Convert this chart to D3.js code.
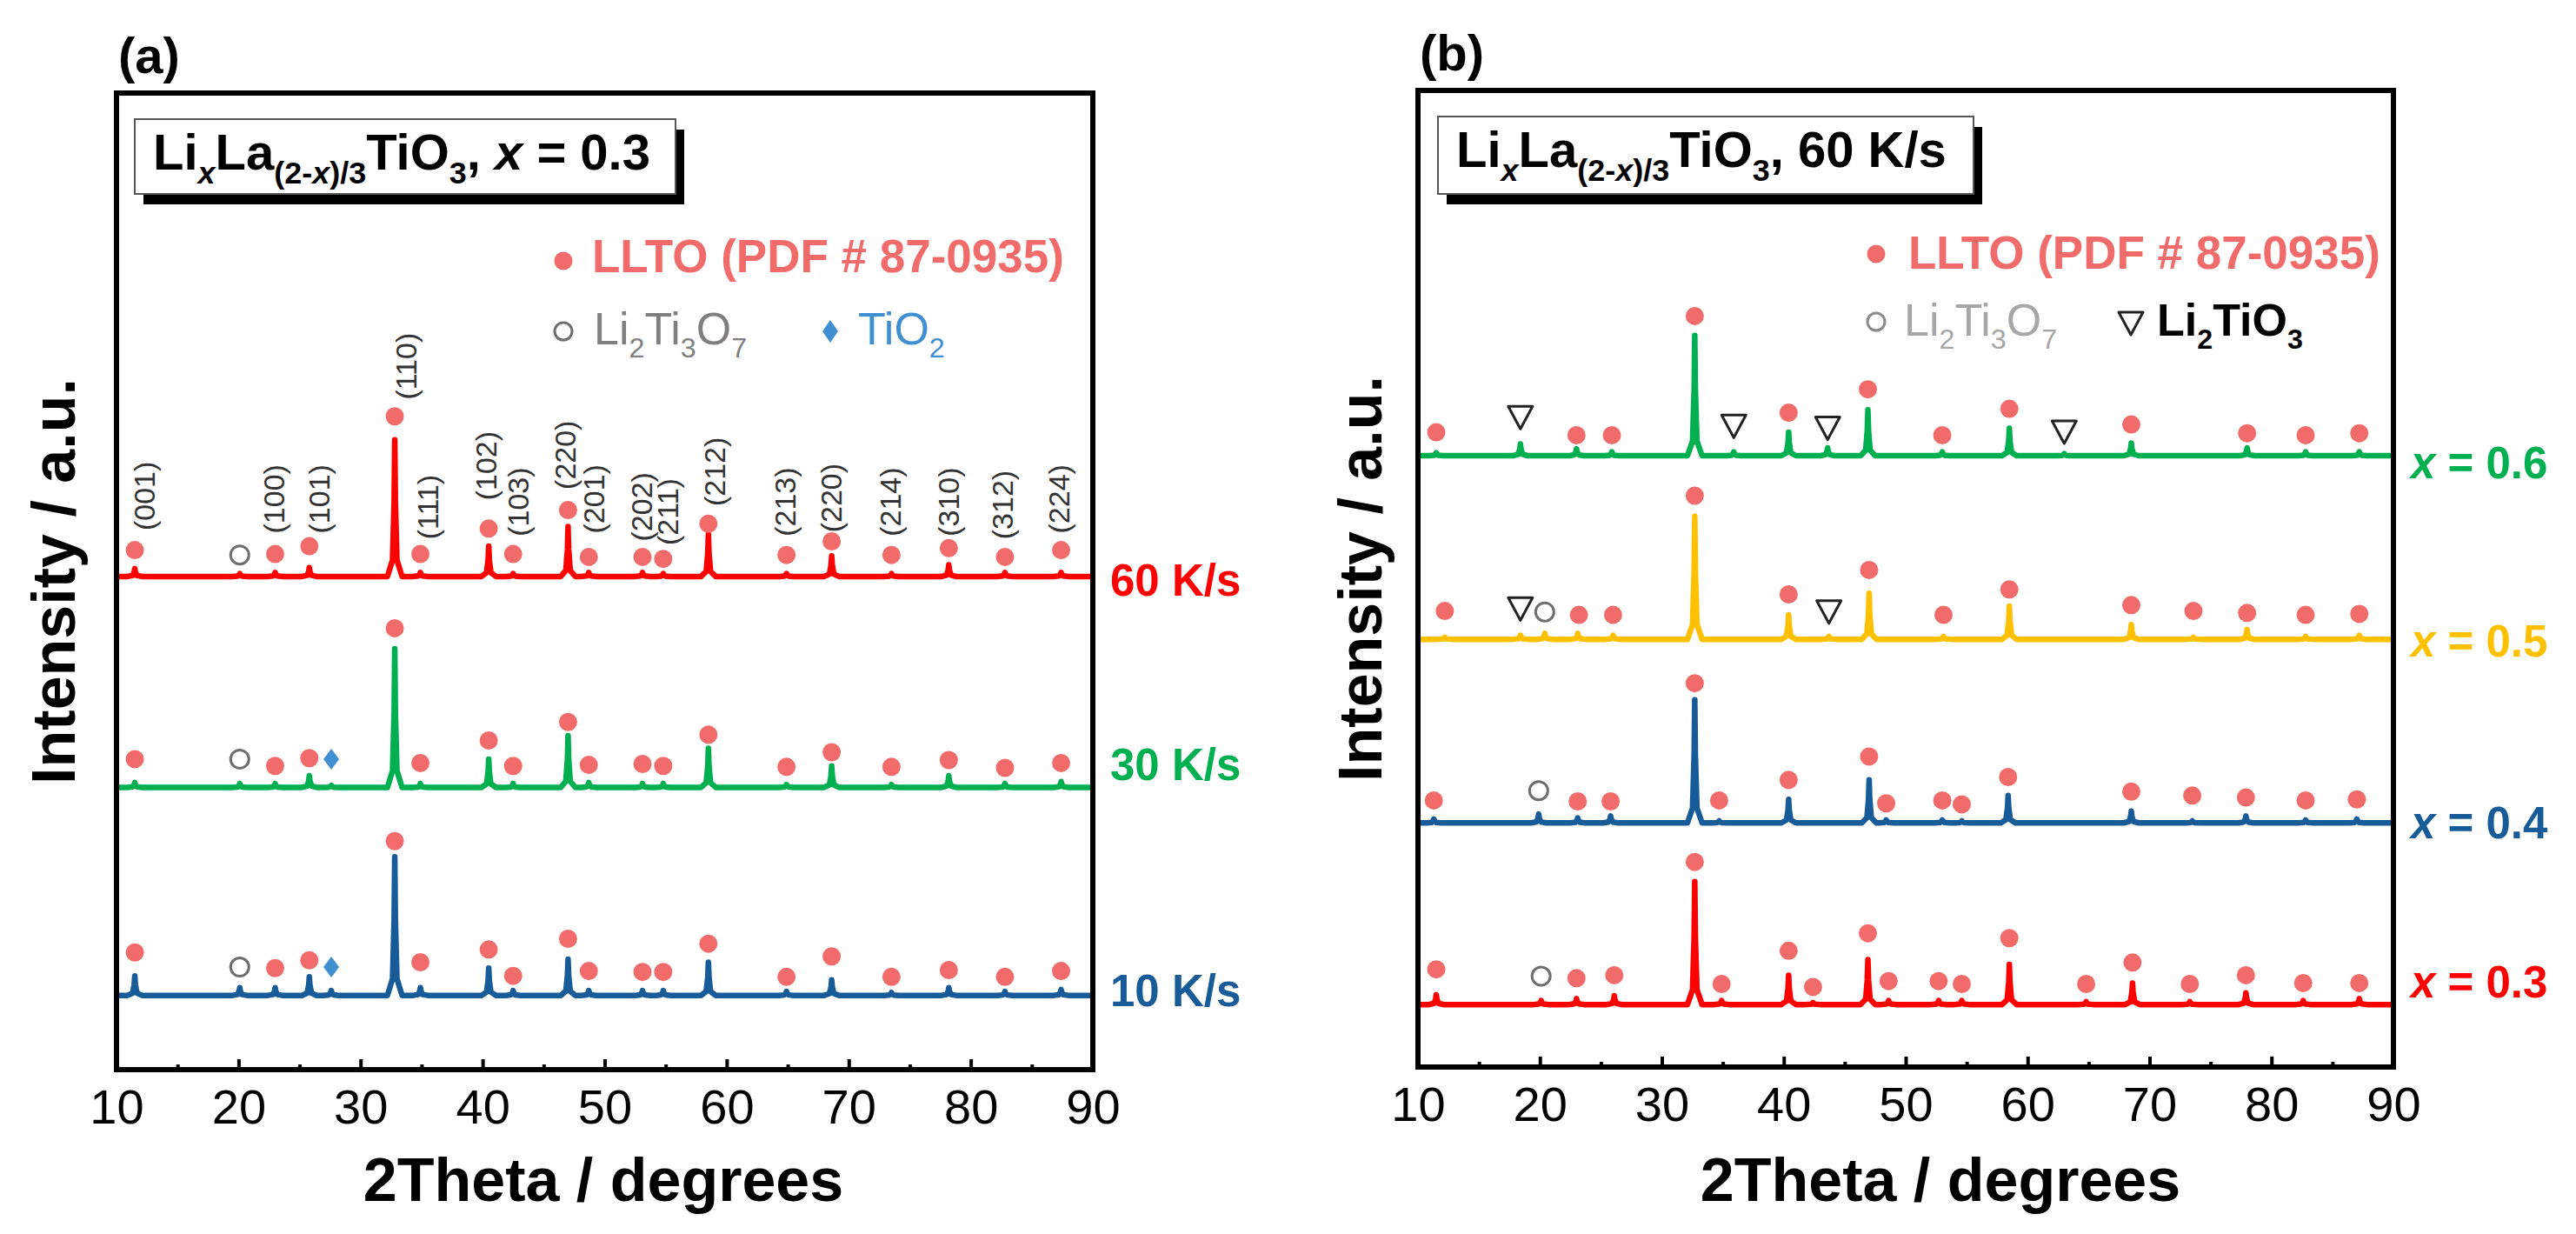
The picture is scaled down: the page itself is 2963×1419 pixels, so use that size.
<!DOCTYPE html>
<html>
<head>
<meta charset="utf-8">
<script src="https://cdn.jsdelivr.net/npm/d3@7"></script>
<style>
  html, body { margin: 0; padding: 0; background: #ffffff; }
  svg { display: block; }
</style>
</head>
<body>
<svg id="chart" width="2963" height="1419"></svg>
<script>
// ======================= DATA =======================
const xTicks = [10, 20, 30, 40, 50, 60, 70, 80, 90];
const xMinorTicks = [15, 25, 35, 45, 55, 65, 75, 85];

// ---- Panel (a): LixLa(2-x)/3TiO3, x = 0.3, different cooling rates ----
// peaks: [2Theta, peak height (a.u.)] ; base: vertical offset of the trace (a.u.)
const rate60Base = 505;
const rate60Peaks = [[11.5,8],[20.1,3],[23.0,4],[25.8,9],[32.8,140],[34.9,4],[40.5,31],[42.5,3],[47.0,51],[48.7,4],[53.1,4],[54.8,3],[58.5,43],[64.9,3],[68.6,21],[73.5,3],[78.2,12],[82.8,4],[87.4,4]];
const rate60Llto = [[11.5,532],[23.0,528],[25.8,536],[32.8,669],[34.9,528],[40.5,554],[42.5,528],[47.0,573],[48.7,525],[53.1,525],[54.8,523],[58.5,559],[64.9,527],[68.6,541],[73.5,527],[78.2,534],[82.8,525],[87.4,532]];
const rate60Li2Ti3O7 = [[20.1,527]];
const rate60TiO2 = [];

const rate30Base = 289;
const rate30Peaks = [[11.5,5],[20.1,4],[23.0,4],[25.8,12],[27.6,2],[32.8,142],[34.9,4],[40.5,29],[42.5,4],[47.0,53],[48.7,5],[53.1,4],[54.8,4],[58.5,40],[64.9,3],[68.6,22],[73.5,3],[78.2,12],[82.8,4],[87.4,6]];
const rate30Llto = [[11.5,318],[23.0,311],[25.8,319],[32.8,452],[34.9,314],[40.5,337],[42.5,311],[47.0,356],[48.7,312],[53.1,313],[54.8,311],[58.5,343],[64.9,310],[68.6,325],[73.5,310],[78.2,317],[82.8,309],[87.4,314]];
const rate30Li2Ti3O7 = [[20.1,318]];
const rate30TiO2 = [[27.6,318]];

const rate10Base = 76;
const rate10Peaks = [[11.5,20],[20.1,8],[23.0,8],[25.8,19],[27.6,5],[32.8,142],[34.9,8],[40.5,28],[42.5,5],[47.0,37],[48.7,5],[53.1,5],[54.8,5],[58.5,34],[64.9,4],[68.6,16],[73.5,3],[78.2,8],[82.8,4],[87.4,6]];
const rate10Llto = [[11.5,120],[23.0,104],[25.8,112],[32.8,234],[34.9,110],[40.5,123],[42.5,96],[47.0,134],[48.7,101],[53.1,100],[54.8,100],[58.5,129],[64.9,95],[68.6,116],[73.5,95],[78.2,102],[82.8,95],[87.4,101]];
const rate10Li2Ti3O7 = [[20.1,105]];
const rate10TiO2 = [[27.6,105]];

const rateLabels = ["60 K/s", "30 K/s", "10 K/s"];

// Miller indices on the 60 K/s trace
const hklLabels = ["(001)","(100)","(101)","(110)","(111)","(102)","(103)","(220)","(201)","(202)","(211)","(212)","(213)","(220)","(214)","(310)","(312)","(224)"];
const hklPos    = [12.3, 22.9, 26.6, 33.7, 35.5, 40.3, 42.9, 46.8, 49.1, 53.0, 55.2, 59.0, 64.8, 68.55, 73.4, 78.2, 82.6, 87.2];
const hklLevel  = [552, 549, 549, 686, 543, 583, 546, 594, 549, 541, 537, 577, 546, 550, 546, 546, 543, 549];

// ---- Panel (b): LixLa(2-x)/3TiO3, 60 K/s, different x ----
const x6Base = 626;
const x6Peaks = [[11.5,3],[18.4,12],[23.0,7],[25.9,4],[32.7,123],[35.9,4],[40.4,24],[43.6,8],[46.9,47],[53.0,4],[58.5,28],[63.0,2],[68.5,13],[78.0,8],[82.8,4],[87.2,4]];
const x6Llto = [[11.5,650],[23.0,647],[25.9,647],[32.7,769],[40.4,670],[46.9,694],[53.0,647],[58.5,674],[68.5,658],[78.0,649],[82.8,647],[87.2,649]];
const x6Li2Ti3O7 = [];
const x6Li2TiO3 = [[18.4,665],[35.9,656],[43.6,654],[63.0,650]];

const x5Base = 438;
const x5Peaks = [[12.2,2],[18.4,4],[20.4,6],[23.1,6],[26.0,4],[32.7,126],[40.4,25],[43.7,3],[47.0,47],[53.1,3],[58.5,34],[68.5,15],[73.6,2],[78.0,10],[82.8,3],[87.2,4]];
const x5Llto = [[12.2,467],[23.2,463],[26.0,463],[32.7,585],[40.4,484],[47.0,509],[53.1,463],[58.5,489],[68.5,473],[73.6,467],[78.0,465],[82.8,463],[87.2,464]];
const x5Li2Ti3O7 = [[20.4,466]];
const x5Li2TiO3 = [[18.4,469],[43.7,466]];

const x4Base = 250;
const x4Peaks = [[11.3,4],[19.9,9],[23.1,5],[25.8,7],[32.7,126],[34.7,2],[40.4,24],[47.0,44],[48.4,3],[53.0,3],[54.6,2],[58.4,28],[68.5,12],[73.5,2],[77.9,7],[82.8,3],[87.0,4]];
const x4Llto = [[11.3,273],[23.1,272],[25.8,272],[32.7,393],[34.7,273],[40.4,294],[47.0,318],[48.4,270],[53.0,273],[54.6,269],[58.4,297],[68.5,282],[73.5,278],[77.9,276],[82.8,273],[87.0,274]];
const x4Li2Ti3O7 = [[19.9,283]];
const x4Li2TiO3 = [];

const x3Base = 64;
const x3Peaks = [[11.5,10],[20.1,4],[23.0,6],[26.1,9],[32.7,126],[34.9,4],[40.4,30],[42.4,2],[46.9,46],[48.6,4],[52.7,4],[54.6,4],[58.5,41],[64.8,3],[68.6,22],[73.3,3],[77.9,12],[82.6,4],[87.2,6]];
const x3Llto = [[11.5,100],[23.0,91],[26.1,94],[32.7,210],[34.9,85],[40.4,119],[42.4,82],[46.9,137],[48.6,88],[52.7,88],[54.6,85],[58.5,132],[64.8,85],[68.6,107],[73.3,85],[77.9,94],[82.6,86],[87.2,86]];
const x3Li2Ti3O7 = [[20.1,93]];
const x3Li2TiO3 = [];

const compLabels = ["0.6", "0.5", "0.4", "0.3"];

// ======================= STYLE / LAYOUT =======================
const FONT = "'Liberation Sans', Arial, Helvetica, sans-serif";
const PLOT_H = 1123;
const C_RED = "#ff0000", C_GREEN = "#00b050", C_BLUE = "#175c98", C_YELLOW = "#ffc000";
const C_LLTO = "#f26b6b", C_TIO2 = "#3f8fd2";
// peak profile (style only): [offset in degrees, fraction of height]
const SHAPE = [[-0.6,0],[-0.18,0.12],[-0.05,0.55],[0,1],[0.05,0.55],[0.18,0.12],[0.6,0]];

const svg = d3.select("#chart");

function tracePoints(peaks) {
  const pts = [[10, 0]];
  peaks.forEach(([p, h]) => SHAPE.forEach(([dx, f]) => pts.push([p + dx, h * f])));
  pts.push([90, 0]);
  return pts;
}

function richText(g, x, y, parts, size, color, weight) {
  const t = g.append("text").attr("x", x).attr("y", y)
    .attr("font-family", FONT).attr("font-size", size)
    .attr("font-weight", weight || "bold").attr("fill", color);
  let inSub = false;
  const shift = size * 0.28;
  parts.forEach(p => {
    const ts = t.append("tspan").text(p.t);
    if (p.sub && !inSub) { ts.attr("dy", shift); inSub = true; }
    else if (!p.sub && inSub) { ts.attr("dy", -shift); inSub = false; }
    if (p.sub) ts.attr("font-size", size * 0.62);
    if (p.it) ts.attr("font-style", "italic");
    if (p.w) ts.attr("font-weight", p.w);
  });
  return t;
}

function drawMarkers(g, x, y, pts, kind) {
  const sel = g.append("g").selectAll("path").data(pts).join("path")
    .attr("transform", d => `translate(${x(d[0])},${y(d[1])})`);
  if (kind === "dot") {
    sel.attr("d", d3.symbol(d3.symbolCircle, Math.PI * 10.5 * 10.5)()).attr("fill", C_LLTO);
  } else if (kind === "circle") {
    sel.attr("d", d3.symbol(d3.symbolCircle, Math.PI * 10.5 * 10.5)())
      .attr("fill", "#fff").attr("stroke", "#6e6e6e").attr("stroke-width", 3);
  } else if (kind === "diamond") {
    sel.attr("d", "M0,-12L9,0L0,12L-9,0Z").attr("fill", C_TIO2);
  } else if (kind === "tri") {
    sel.attr("d", "M-14,-13L14,-13L0,13Z").attr("fill", "#fff")
      .attr("stroke", "#222").attr("stroke-width", 3).attr("stroke-linejoin", "round");
  }
}

function drawPanel(cfg) {
  const g = svg.append("g");
  const x = d3.scaleLinear().domain([10, 90]).range([cfg.left, cfg.right]);
  const y = d3.scaleLinear().domain([0, 1000]).range([cfg.bottom, cfg.bottom - PLOT_H]);
  const top = cfg.bottom - PLOT_H;

  // traces
  const line = d3.line().x(d => x(d[0])).y(d => y(d[1]));
  cfg.series.forEach(s => {
    const pts = tracePoints(s.peaks).map(([a, v]) => [a, v + s.base]);
    g.append("path").attr("d", line(pts)).attr("fill", "none")
      .attr("stroke", s.color).attr("stroke-width", 6.5)
      .attr("stroke-linejoin", "round").attr("stroke-linecap", "butt");
  });
  // markers
  cfg.series.forEach(s => {
    drawMarkers(g, x, y, s.llto, "dot");
    drawMarkers(g, x, y, s.circ || [], "circle");
    drawMarkers(g, x, y, s.diam || [], "diamond");
    drawMarkers(g, x, y, s.tri || [], "tri");
  });

  // axes (ticks inside)
  const major = d3.axisBottom(x).tickValues(xTicks).tickSize(-12).tickPadding(22).tickFormat(d3.format("d"));
  const minor = d3.axisBottom(x).tickValues(xMinorTicks).tickSize(-6).tickFormat("");
  [major, minor].forEach(ax => {
    g.append("g").attr("transform", `translate(0,${cfg.bottom})`).call(ax)
      .call(s => s.select(".domain").remove())
      .call(s => s.selectAll("line").attr("stroke", "#000").attr("stroke-width", 4))
      .call(s => s.selectAll("text").attr("font-size", 56).attr("font-family", FONT).attr("fill", "#000"));
  });

  // frame
  g.append("rect").attr("x", cfg.left).attr("y", top)
    .attr("width", cfg.right - cfg.left).attr("height", PLOT_H)
    .attr("fill", "none").attr("stroke", "#000").attr("stroke-width", 6);

  // panel letter
  g.append("text").attr("x", cfg.left + 2).attr("y", top - 23).text(cfg.letter)
    .attr("font-family", FONT).attr("font-size", 58).attr("font-weight", "bold").attr("fill", "#000");

  // axis titles
  g.append("text").attr("x", cfg.xTitleX).attr("y", 1381).attr("text-anchor", "middle")
    .text("2Theta / degrees").attr("font-family", FONT).attr("font-size", 70)
    .attr("font-weight", "bold").attr("fill", "#000");
  g.append("text").attr("transform", `translate(${cfg.yTitleX},${(top + cfg.bottom) / 2}) rotate(-90)`)
    .attr("text-anchor", "middle").text("Intensity / a.u.")
    .attr("font-family", FONT).attr("font-size", 70).attr("font-weight", "bold").attr("fill", "#000");

  // title box with shadow
  const bx = cfg.box;
  g.append("rect").attr("x", bx.x + 10).attr("y", bx.y + 12).attr("width", bx.w).attr("height", bx.h).attr("fill", "#000");
  g.append("rect").attr("x", bx.x).attr("y", bx.y).attr("width", bx.w).attr("height", bx.h)
    .attr("fill", "#fff").attr("stroke", "#555").attr("stroke-width", 2);
  richText(g, bx.x + 21, bx.y + 58, cfg.titleParts, 58, "#000");

  // right labels
  cfg.series.forEach(s => {
    richText(g, cfg.right + 20, s.labelY, s.labelParts, 51, s.color);
  });
  return { g, x, y };
}

// ======================= PANEL (a) =======================
const pa = drawPanel({
  left: 134, right: 1257, bottom: 1230, letter: "(a)",
  xTitleX: 694, yTitleX: 86,
  box: { x: 155, y: 137, w: 622, h: 86 },
  titleParts: [{t:"Li"},{t:"x",sub:1,it:1},{t:"La"},{t:"(2-",sub:1},{t:"x",sub:1,it:1},{t:")/3",sub:1},{t:"TiO"},{t:"3",sub:1},{t:", "},{t:"x",it:1},{t:" = 0.3"}],
  series: [
    { base: rate60Base, peaks: rate60Peaks, llto: rate60Llto, circ: rate60Li2Ti3O7, diam: rate60TiO2, color: C_RED,   labelY: 685,  labelParts: [{t: rateLabels[0]}] },
    { base: rate30Base, peaks: rate30Peaks, llto: rate30Llto, circ: rate30Li2Ti3O7, diam: rate30TiO2, color: C_GREEN, labelY: 897,  labelParts: [{t: rateLabels[1]}] },
    { base: rate10Base, peaks: rate10Peaks, llto: rate10Llto, circ: rate10Li2Ti3O7, diam: rate10TiO2, color: C_BLUE,  labelY: 1157, labelParts: [{t: rateLabels[2]}] }
  ]
});

// Miller index labels
pa.g.append("g").selectAll("text").data(hklLabels).join("text")
  .attr("transform", (d, i) => `translate(${pa.x(hklPos[i])},${pa.y(hklLevel[i])}) rotate(-90)`)
  .attr("dy", "0.35em").text(d => d)
  .attr("font-family", FONT).attr("font-size", 34).attr("fill", "#333");

// Legend (a)
(function () {
  const g = pa.g.append("g");
  g.append("circle").attr("cx", 648).attr("cy", 300).attr("r", 10.5).attr("fill", C_LLTO);
  richText(g, 681, 313, [{t:"LLTO (PDF # 87-0935)"}], 53, C_LLTO);
  g.append("circle").attr("cx", 648).attr("cy", 381).attr("r", 10).attr("fill", "#fff").attr("stroke", "#6e6e6e").attr("stroke-width", 3);
  richText(g, 683, 396, [{t:"Li"},{t:"2",sub:1},{t:"Ti"},{t:"3",sub:1},{t:"O"},{t:"7",sub:1}], 52, "#7f7f7f", "normal");
  g.append("path").attr("transform", "translate(955,381)").attr("d", "M0,-13L9,0L0,13L-9,0Z").attr("fill", C_TIO2);
  richText(g, 987, 396, [{t:"TiO"},{t:"2",sub:1}], 52, C_TIO2, "normal");
})();

// ======================= PANEL (b) =======================
const xParts = v => [{t:"x",it:1},{t:" = " + v}];
const pb = drawPanel({
  left: 1631, right: 2753, bottom: 1227, letter: "(b)",
  xTitleX: 2232, yTitleX: 1589,
  box: { x: 1654, y: 134, w: 616, h: 89 },
  titleParts: [{t:"Li"},{t:"x",sub:1,it:1},{t:"La"},{t:"(2-",sub:1},{t:"x",sub:1,it:1},{t:")/3",sub:1},{t:"TiO"},{t:"3",sub:1},{t:", 60 K/s"}],
  series: [
    { base: x6Base, peaks: x6Peaks, llto: x6Llto, circ: x6Li2Ti3O7, tri: x6Li2TiO3, color: C_GREEN,  labelY: 550,  labelParts: xParts(compLabels[0]) },
    { base: x5Base, peaks: x5Peaks, llto: x5Llto, circ: x5Li2Ti3O7, tri: x5Li2TiO3, color: C_YELLOW, labelY: 755,  labelParts: xParts(compLabels[1]) },
    { base: x4Base, peaks: x4Peaks, llto: x4Llto, circ: x4Li2Ti3O7, tri: x4Li2TiO3, color: C_BLUE,   labelY: 964,  labelParts: xParts(compLabels[2]) },
    { base: x3Base, peaks: x3Peaks, llto: x3Llto, circ: x3Li2Ti3O7, tri: x3Li2TiO3, color: C_RED,    labelY: 1147, labelParts: xParts(compLabels[3]) }
  ]
});

// Legend (b)
(function () {
  const g = pb.g.append("g");
  g.append("circle").attr("cx", 2158).attr("cy", 292).attr("r", 10.5).attr("fill", C_LLTO);
  richText(g, 2195, 309, [{t:"LLTO (PDF # 87-0935)"}], 53, C_LLTO);
  g.append("circle").attr("cx", 2158).attr("cy", 370).attr("r", 10).attr("fill", "#fff").attr("stroke", "#8a8a8a").attr("stroke-width", 3);
  richText(g, 2190, 386, [{t:"Li"},{t:"2",sub:1},{t:"Ti"},{t:"3",sub:1},{t:"O"},{t:"7",sub:1}], 52, "#a6a6a6", "normal");
  g.append("path").attr("transform", "translate(2451,372)").attr("d", "M-14,-13L14,-13L0,13Z")
    .attr("fill", "#fff").attr("stroke", "#222").attr("stroke-width", 3).attr("stroke-linejoin", "round");
  richText(g, 2481, 386, [{t:"Li"},{t:"2",sub:1},{t:"TiO"},{t:"3",sub:1}], 52, "#000");
})();
</script>
</body>
</html>
